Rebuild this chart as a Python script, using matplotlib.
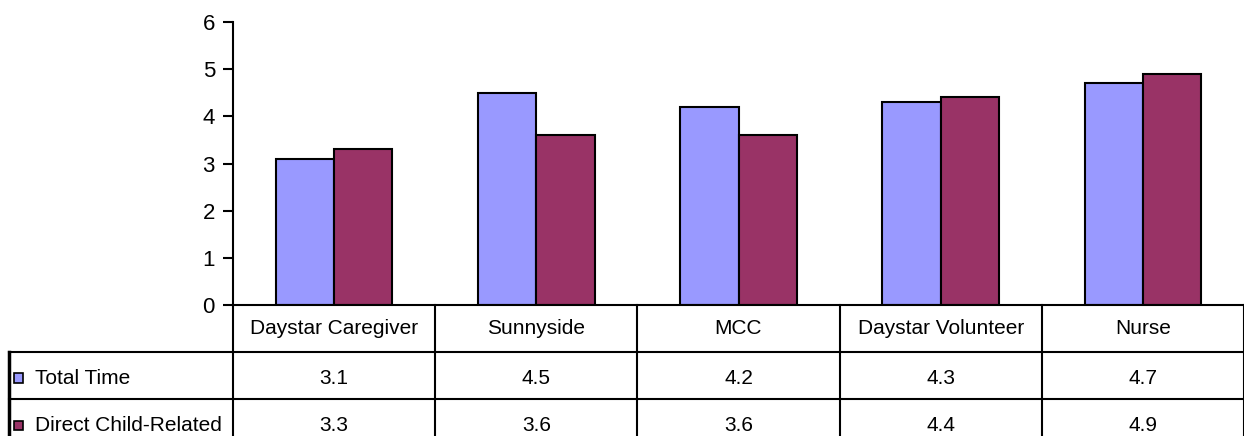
import numpy as np
import matplotlib.pyplot as plt
from matplotlib.patches import Rectangle

plt.rcParams['font.family'] = ['Liberation Sans', 'DejaVu Sans']

categories = ['Daystar Caregiver', 'Sunnyside', 'MCC', 'Daystar Volunteer', 'Nurse']
series_names = ['Total Time', 'Direct Child-Related']
total_time = [3.1, 4.5, 4.2, 4.3, 4.7]
direct_child = [3.3, 3.6, 3.6, 4.4, 4.9]
colors = ['#9999FF', '#993366']

fig = plt.figure(figsize=(12.44, 4.36), dpi=100)
ax = fig.add_axes([233 / 1244, 131 / 436, 1011 / 1244, 283 / 436])

x = np.arange(len(categories))
width = 0.288
ax.bar(x - width / 2, total_time, width, color=colors[0], edgecolor='black', linewidth=1.5)
ax.bar(x + width / 2, direct_child, width, color=colors[1], edgecolor='black', linewidth=1.5)

fs = 15
ax.set_xlim(-0.5, len(categories) - 0.5)
ax.set_ylim(0, 6)
ax.set_yticks(range(7))
ax.tick_params(axis='y', length=7, width=1.5, pad=6, labelsize=fs + 1)
ax.set_xticks([])
for side in ['top', 'right']:
    ax.spines[side].set_visible(False)
ax.spines['left'].set_linewidth(1.5)
ax.spines['bottom'].set_linewidth(1.5)

# data table below the plot area
lc = dict(color='black', linewidth=1.5, clip_on=False)
left_edge = -1.608
bottom = -3.0
for b in np.arange(len(categories) + 1) - 0.5:
    ax.plot([b, b], [0, bottom], **lc)
ax.plot([left_edge, left_edge], [-1.0, bottom], color='black', linewidth=2.5, clip_on=False)
for yy in [-1.0, -2.0]:
    ax.plot([left_edge, len(categories) - 0.5], [yy, yy], **lc)

for i, cat in enumerate(categories):
    ax.text(i, -0.5, cat, ha='center', va='center', fontsize=fs, clip_on=False)
for row, (name, vals) in enumerate(zip(series_names, [total_time, direct_child])):
    yc = -1.55 - row
    ax.add_patch(Rectangle((-1.583, yc - 0.1), 0.044, 0.2, facecolor=colors[row],
                           edgecolor='black', linewidth=1.2, clip_on=False))
    ax.text(-1.478, yc, name, ha='left', va='center', fontsize=fs, clip_on=False)
    for i, v in enumerate(vals):
        ax.text(i, yc, f'{v:.1f}', ha='center', va='center', fontsize=fs, clip_on=False)

fig.savefig('out.png', dpi=100)
